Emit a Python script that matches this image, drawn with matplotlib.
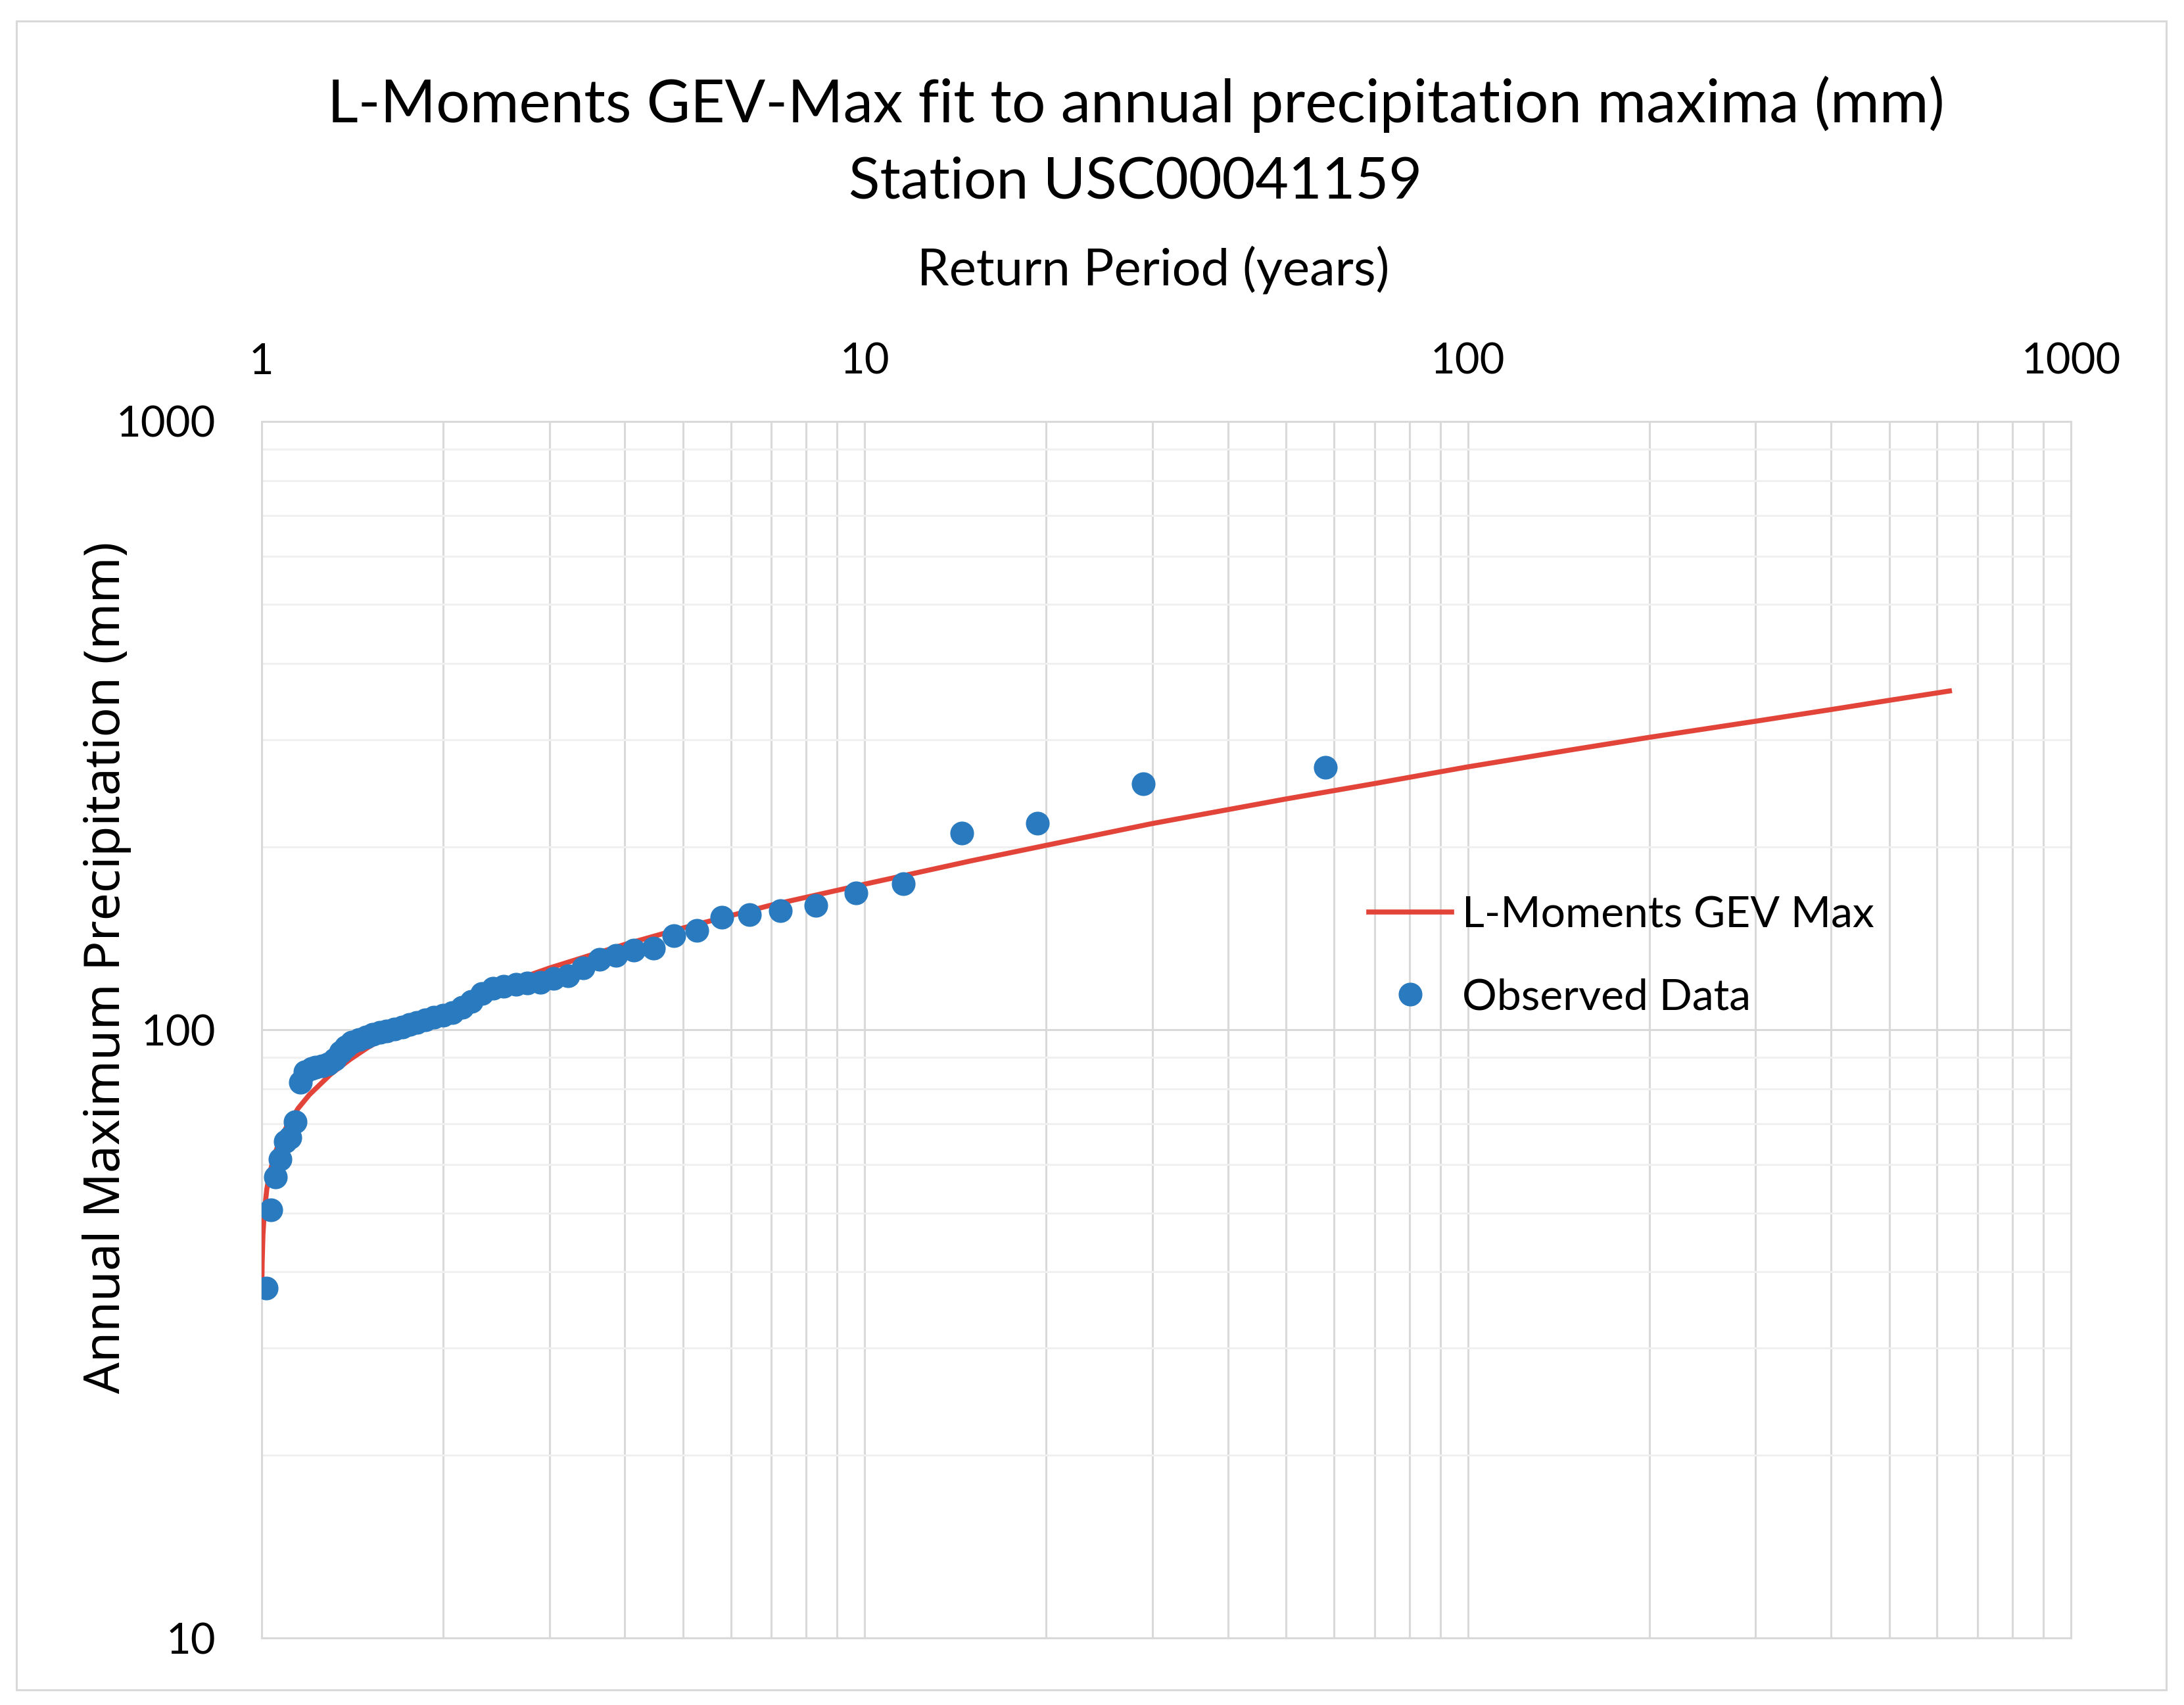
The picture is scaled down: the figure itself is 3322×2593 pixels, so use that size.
import matplotlib
matplotlib.use("Agg")
import matplotlib.pyplot as plt
from matplotlib.ticker import FixedLocator, LogLocator, NullFormatter, FuncFormatter
from matplotlib.patches import Rectangle

plt.rcParams['font.family'] = ['Lato', 'DejaVu Sans']

# observed annual maxima, plotted against their return period (years)
return_period = [58.0, 29.0, 19.33, 14.5, 11.6, 9.67, 8.29, 7.25, 6.44, 5.8,
                 5.27, 4.83, 4.46, 4.14, 3.87, 3.63, 3.41, 3.22, 3.05, 2.9,
                 2.76, 2.64, 2.52, 2.42, 2.32, 2.23, 2.15, 2.07, 2.0, 1.93,
                 1.87, 1.81, 1.76, 1.71, 1.66, 1.61, 1.57, 1.53, 1.49, 1.45,
                 1.41, 1.38, 1.35, 1.32, 1.29, 1.26, 1.23, 1.21, 1.18, 1.16,
                 1.137, 1.115, 1.094, 1.074, 1.055, 1.036, 1.018]
precip = [270.3, 253.5, 218.7, 210.7, 173.6, 167.7, 160.2, 156.9, 154.6, 153.1,
          145.6, 142.7, 136.3, 135.1, 132.4, 130.4, 126.5, 122.8, 121.3, 119.6,
          119.2, 118.7, 117.9, 116.9, 114.8, 111.2, 108.9, 106.7, 105.6, 104.9,
          103.9, 102.8, 101.9, 101.0, 100.3, 99.6, 98.9, 98.2, 97.4, 96.4,
          95.4, 93.8, 91.9, 89.5, 87.8, 87.2, 86.8, 86.3, 85.3, 82.0,
          70.5, 66.5, 65.5, 61.2, 57.3, 50.6, 37.6]

# fitted GEV curve
gev_T = [1.001, 1.002, 1.005, 1.01, 1.02, 1.03, 1.05, 1.07, 1.1, 1.15,
         1.2, 1.3, 1.4, 1.5, 1.7, 2, 2.5, 3, 4, 5,
         7, 10, 15, 20, 30, 50, 70, 100, 150, 200,
         300, 400, 500, 629]
gev_P = [38.6, 41.5, 46.0, 50.0, 54.7, 57.8, 62.2, 65.5, 69.3, 74.3,
         78.2, 84.4, 89.3, 93.5, 100.3, 108.4, 118.5, 126.3, 138.1, 147.0,
         160.3, 173.5, 189.5, 201.0, 218.3, 239.6, 253.9, 270.5, 289.0, 302.5,
         321.5, 336.0, 348.0, 360.5]

x_ticks = [1, 10, 100, 1000]
y_ticks = [10, 100, 1000]

RED = '#E2443A'
BLUE = '#2A7ABF'
GRID = '#d9d9d9'

fig = plt.figure(figsize=(33.22, 25.93), dpi=100)
fig.patches.append(Rectangle((0.0075, 0.0089), 0.9844, 0.9788, transform=fig.transFigure,
                             fill=False, edgecolor=GRID, lw=2.2))

ax = fig.add_axes([0.1198, 0.0393, 0.8284, 0.7135])
ax.set_xscale('log')
ax.set_yscale('log')

ax.plot(gev_T, gev_P, color=RED, lw=5.5, label='L-Moments GEV Max', zorder=3)
ax.plot(return_period, precip, 'o', ms=25, color=BLUE, mec=BLUE, label='Observed Data', zorder=4)

ax.set_xlim(1, 1000)
ax.set_ylim(10, 1000)

fmt = FuncFormatter(lambda v, p: f"{v:g}")
ax.xaxis.set_major_locator(FixedLocator(x_ticks))
ax.yaxis.set_major_locator(FixedLocator(y_ticks))
ax.xaxis.set_major_formatter(fmt)
ax.yaxis.set_major_formatter(fmt)
for a in (ax.xaxis, ax.yaxis):
    a.set_minor_locator(LogLocator(base=10, subs=range(2, 10), numticks=20))
    a.set_minor_formatter(NullFormatter())

ax.set_axisbelow(True)
ax.grid(which='major', color=GRID, lw=2.2)
ax.grid(which='minor', axis='x', color=GRID, lw=2.2)
ax.grid(which='minor', axis='y', color='#f0f0f0', lw=2.2)
for s in ax.spines.values():
    s.set_color(GRID)
    s.set_linewidth(2.2)

ax.xaxis.tick_top()
ax.tick_params(which='both', length=0)
ax.tick_params(axis='both', labelsize=47, pad=50)
ax.tick_params(axis='x', pad=44)

ax.set_xlabel('Return Period (years)', fontsize=56)
ax.xaxis.set_label_position('top')
ax.xaxis.set_label_coords(0.493, 1.112)
ax.set_ylabel('Annual Maximum Precipitation (mm)', fontsize=54, family=['Noto Sans', 'DejaVu Sans'],
              va='center')
ax.yaxis.set_label_coords(-0.0855, 0.551)

fig.text(0.52, 0.9387, 'L-Moments GEV-Max fit to annual precipitation maxima (mm)',
         ha='center', va='center', fontsize=65.5)
fig.text(0.52, 0.8932, 'Station USC00041159', ha='center', va='center', fontsize=63)

ax.legend(loc='upper left', bbox_to_anchor=(0.612, 0.61), frameon=False, fontsize=47.5,
          handlelength=1.9, handletextpad=0.25, labelspacing=1.0, borderpad=0, borderaxespad=0)

fig.savefig('out.png', dpi=100)
